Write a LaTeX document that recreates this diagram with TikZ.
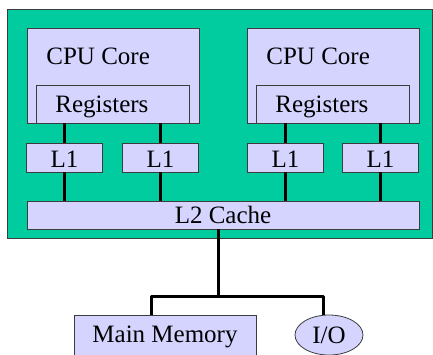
\documentclass[tikz,border=0pt]{standalone}
\usepackage{fontspec}
\setmainfont{Liberation Serif}
\usetikzlibrary{positioning,shapes}
\definecolor{chipgreen}{RGB}{0,204,160}
\definecolor{boxlilac}{RGB}{212,212,255}
\definecolor{edgegray}{RGB}{60,60,60}

\begin{document}
\begin{tikzpicture}
  [x=1pt,y=-1pt,
    every node/.style={rectangle,draw=edgegray,line width=0.8pt,fill=boxlilac,inner sep=0pt,
      font=\fontsize{25}{30}\selectfont},
    word/.style={draw=none,fill=none},
    l1box/.style={minimum width=76pt,minimum height=29pt,text height=20pt,text depth=0pt},
    wire/.style={line width=3pt,line join=round}]
  \useasboundingbox (0,0) rectangle (433,354);
  \node[fill=chipgreen,minimum width=425pt,minimum height=229pt] (chip) at (219.5,123.5) {};
  \foreach \n/\x in {1/113,2/333} {
    \node[minimum width=172pt,minimum height=95pt] (core\n) at (\x,75.5) {};
    \node[minimum width=153pt,minimum height=38pt] (reg\n) at (\x-0.5,104) {};
    \node[word,anchor=base west] (cpu\n) at (\x-67,64) {CPU Core};
    \node[word,anchor=base west] (regtext\n) at (\x-58,112) {Registers};
  }
  \node[l1box] (l1a) at (64.5,157.5) {L1};
  \node[l1box] (l1b) at (160.5,157.5) {L1};
  \node[l1box] (l1c) at (285.5,157.5) {L1};
  \node[l1box] (l1d) at (380.5,157.5) {L1};
  \node[minimum width=392pt,minimum height=28pt] (l2) at (223,215) {L2 Cache};
  \node[minimum width=182pt,minimum height=43pt] (mem) at (165,336.5) {Main Memory};
  \node[ellipse,minimum width=68pt,minimum height=40pt] (io) at (329,335) {I/O};
  \foreach \from/\to in {l1a/reg1,l1b/reg1,l1c/reg2,l1d/reg2}
    \draw[wire] (\from.north) -- (\from.north |- \to.south);
  \foreach \from in {l1a,l1b,l1c,l1d}
    \draw[wire] (\from.south) -- (\from.south |- l2.north);
  \coordinate (bus) at (218,296);
  \coordinate (busl) at (151,296);
  \coordinate (busr) at (323,296);
  \draw[wire] (bus |- l2.south) -- (bus);
  \draw[wire] (busl |- mem.north) -- (busl) -- (busr) -- (busr |- io.north);
\end{tikzpicture}
\end{document}
